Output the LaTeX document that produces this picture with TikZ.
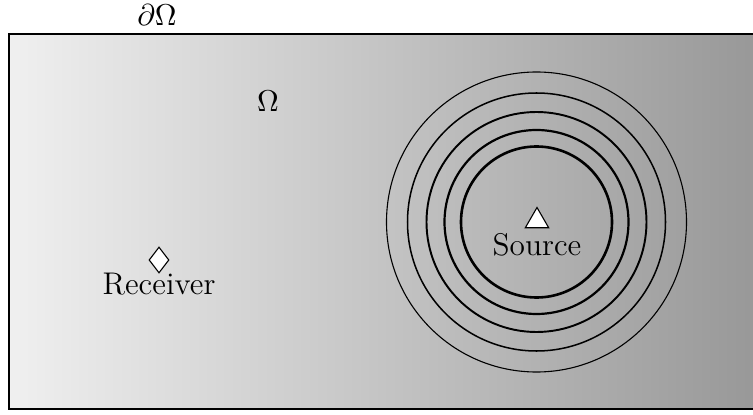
\documentclass[tikz,border=0pt]{standalone}
\usetikzlibrary{shapes.geometric}
\definecolor{domleft}{gray}{0.94}
\definecolor{domright}{gray}{0.59}
\tikzset{
  wave/.style={draw=black},
  marker/.style={draw=black, fill=white, line width=0.4pt, inner sep=0pt},
  lbl/.style={inner sep=0pt, font=\fontsize{11.4}{13}\selectfont}
}
\begin{document}
\begin{tikzpicture}[x=0.3636pt, y=-0.3636pt]
  \useasboundingbox (0,0) rectangle (753,415);
  % domain with horizontal shading
  \begin{scope}
    \clip (0,0) rectangle (753,415);
    \shade[left color=domleft, right color=domright, draw=black, line width=1pt]
      (9,34) rectangle (770,409);
  \end{scope}
  % wave fronts around the source
  \coordinate (c) at (536.5,222);
  \draw[wave, line width=0.4pt]  (c) circle (150);
  \draw[wave, line width=0.55pt] (c) circle (129);
  \draw[wave, line width=0.7pt]  (c) circle (110);
  \draw[wave, line width=0.8pt]  (c) circle (92);
  \draw[wave, line width=0.95pt] (c) circle (75.5);
  % labels and markers
  \node[lbl] (bd) at (157,15) {$\partial\Omega$};
  \node[lbl] (om) at (268,101) {$\Omega$};
  \node[marker, regular polygon, regular polygon sides=3, minimum size=0.3636pt*27] (src) at (537,221) {};
  \node[lbl] (srclbl) at (537,245) {Source};
  \node[marker, diamond, minimum width=0.3636pt*20, minimum height=0.3636pt*26] (rcv) at (159,260) {};
  \node[lbl] (rcvlbl) at (159,284) {Receiver};
\end{tikzpicture}
\end{document}
